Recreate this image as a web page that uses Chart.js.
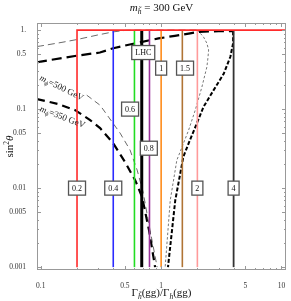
<!DOCTYPE html>
<html>
<head>
<meta charset="utf-8">
<script src="https://cdn.jsdelivr.net/npm/chart.js@4"></script>
<style>
html, body { margin: 0; padding: 0; background: #fff; }
</style>
</head>
<body>
<canvas id="myChart" width="291" height="301"></canvas>
<script>
// axis ranges (log)
const xMin = 0.093, xMax = 10.9;
const yMin = 0.00092, yMax = 1.23;

// tick labels
const xTickValues = [0.1, 0.5, 1, 5, 10];
const xTickLabels = ['0.1', '0.5', '1', '5', '10'];
const yTickValues = [1, 0.5, 0.1, 0.05, 0.01, 0.005, 0.001];
const yTickLabels = ['1.', '0.5', '0.1', '0.05', '0.01', '0.005', '0.001'];

// vertical lines of constant ratio
const ratioValues = [0.2, 0.4, 0.6, 0.69, 0.8, 1, 1.5, 2, 4];
const ratioNames = ['0.2', '0.4', '0.6', 'LHC', '0.8', '1', '1.5', '2', '4'];
const ratioColors = ['#ff2b2b', '#2b2bff', '#22dd22', '#000000', '#993399', '#ff8c1a', '#b07434', '#ff9a9a', '#333333'];
const ratioWidths = [1.6, 1.6, 1.6, 3, 1.6, 1.6, 1.6, 1.6, 1.8];
// box label anchors (data coords)
const boxX = [0.2, 0.4, 0.552, 0.71, 0.79, 1, 1.58, 2, 4];
const boxY = [0.01, 0.01, 0.1, 0.52, 0.032, 0.33, 0.33, 0.01, 0.01];

// m_phi = 500 GeV (thin) curves
const upper500X = [0.093, 0.1, 0.15, 0.2, 0.3, 0.4, 0.5, 0.6, 1.0, 2.0];
const upper500Y = [0.62, 0.63, 0.70, 0.76, 0.87, 0.95, 0.99, 1.0, 1.0, 1.0];
const right500X = [2.0, 2.25, 2.40, 2.48, 2.45, 2.40, 2.18, 1.92, 1.69, 1.49, 1.35, 1.19, 1.08];
const right500Y = [1.0, 0.82, 0.68, 0.56, 0.45, 0.343, 0.19, 0.097, 0.054, 0.033, 0.0226, 0.0070, 0.001];
const lower500X = [0.241, 0.311, 0.456, 0.552, 0.632, 0.708, 0.81, 0.927];
const lower500Y = [0.150, 0.112, 0.0497, 0.0303, 0.0169, 0.0089, 0.0029, 0.001];

// m_phi = 350 GeV (thick) curves
const upper350X = [0.093, 0.1, 0.2, 0.31, 0.4, 0.6, 0.95, 1.3, 1.74, 2.05, 3.0, 3.96];
const upper350Y = [0.39, 0.40, 0.475, 0.52, 0.59, 0.677, 0.785, 0.847, 0.91, 0.95, 0.97, 0.97];
const right350X = [3.96, 3.96, 3.76, 3.31, 2.73, 2.25, 1.98, 1.74, 1.53, 1.31, 1.14];
const right350Y = [0.97, 0.68, 0.46, 0.28, 0.174, 0.107, 0.066, 0.041, 0.025, 0.0070, 0.001];
const lower350X = [0.093, 0.139, 0.193, 0.257, 0.311, 0.399, 0.502, 0.608, 0.695, 0.794, 0.891];
const lower350Y = [0.134, 0.116, 0.097, 0.0726, 0.0575, 0.0371, 0.0213, 0.0126, 0.0077, 0.0029, 0.001];

const serif = "'Liberation Serif', 'DejaVu Serif', serif";

function toPoints(xs, ys) {
    return xs.map((v, i) => ({x: v, y: ys[i]}));
}

let datasets = [];

// red line also runs along the top
ratioValues.forEach((v, i) => {
    let pts = [{x: v, y: yTickValues[6]}, {x: v, y: 1}];
    if (i == 0) pts.push({x: xMax, y: 1});
    datasets.push({
        data: pts,
        borderColor: ratioColors[i],
        borderWidth: ratioWidths[i],
        pointRadius: 0,
        showLine: true,
        tension: 0
    });
});

function curve(xs, ys, color, width, dash) {
    return {
        data: toPoints(xs, ys),
        borderColor: color,
        borderWidth: width,
        borderDash: dash,
        pointRadius: 0,
        showLine: true,
        tension: 0
    };
}

datasets.push(curve(upper500X, upper500Y, '#444', 0.8, [7, 4]));
datasets.push(curve(right500X, right500Y, '#777', 1, [2.5, 2]));
datasets.push(curve(lower500X, lower500Y, '#444', 0.8, [6, 4]));
datasets.push(curve(upper350X, upper350Y, '#000', 2.2, [10, 5]));
datasets.push(curve(right350X, right350Y, '#000', 2, [4, 2]));
datasets.push(curve(lower350X, lower350Y, '#000', 2.2, [8, 5]));

// minor tick positions
function logTicks(lo, hi) {
    let t = [];
    for (let d = lo; d <= hi; d++) {
        for (let k = 1; k < 10; k++) t.push(k * Math.pow(10, d));
    }
    return t;
}
const xMinor = logTicks(-2, 1).filter(v => v >= xMin && v <= xMax);
const yMinor = logTicks(-4, 0).filter(v => v >= yMin && v <= yMax);

// draw text made of pieces (sub/superscripts)
function richText(ctx, parts, x, y, align) {
    let w = 0;
    parts.forEach(p => { ctx.font = p.f; p.w = ctx.measureText(p.t).width; w += p.w; });
    let cx = align == 'center' ? x - w / 2 : x;
    ctx.textBaseline = 'alphabetic';
    ctx.textAlign = 'left';
    parts.forEach(p => {
        ctx.font = p.f;
        ctx.fillText(p.t, cx, y + (p.dy || 0));
        cx += p.w;
    });
}

const decor = {
    id: 'decor',
    afterDatasetsDraw(chart) {
        const {ctx, chartArea: a, scales: {x, y}} = chart;
        ctx.save();
        // frame
        ctx.strokeStyle = '#999';
        ctx.lineWidth = 1;
        ctx.strokeRect(a.left + 0.5, a.top + 0.5, a.right - a.left - 1, a.bottom - a.top - 1);
        // inner ticks on all four sides
        ctx.beginPath();
        xMinor.forEach(v => {
            let px = Math.round(x.getPixelForValue(v)) + 0.5;
            let len = xTickValues.includes(v) ? 4 : 2;
            ctx.moveTo(px, a.bottom); ctx.lineTo(px, a.bottom - len);
            ctx.moveTo(px, a.top); ctx.lineTo(px, a.top + len);
        });
        yMinor.forEach(v => {
            let py = Math.round(y.getPixelForValue(v)) + 0.5;
            let len = yTickValues.some(t => Math.abs(t - v) < v * 1e-6) ? 4 : 2;
            ctx.moveTo(a.left, py); ctx.lineTo(a.left + len, py);
            ctx.moveTo(a.right, py); ctx.lineTo(a.right - len, py);
        });
        ctx.stroke();

        // boxed labels on the lines
        ctx.font = '8px ' + serif;
        ctx.textAlign = 'center';
        ctx.textBaseline = 'middle';
        ratioNames.forEach((name, i) => {
            let px = x.getPixelForValue(boxX[i]);
            let py = y.getPixelForValue(boxY[i]);
            let w = ctx.measureText(name).width + 7;
            let h = 14;
            ctx.fillStyle = '#fff';
            ctx.fillRect(px - w / 2, py - h / 2, w, h);
            ctx.strokeStyle = '#555';
            ctx.lineWidth = 1.3;
            ctx.strokeRect(px - w / 2, py - h / 2, w, h);
            ctx.fillStyle = '#111';
            ctx.fillText(name, px, py + 0.5);
        });

        // curve labels
        const massLabels = [
            {m: '500', x: 0.099, y: 0.254, rot: 26},
            {m: '350', x: 0.099, y: 0.103, rot: 21}
        ];
        ctx.fillStyle = '#222';
        massLabels.forEach(l => {
            ctx.save();
            ctx.translate(x.getPixelForValue(l.x), y.getPixelForValue(l.y));
            ctx.rotate(l.rot * Math.PI / 180);
            richText(ctx, [
                {t: 'm', f: 'italic 9px ' + serif},
                {t: '\u03d5', f: 'italic 6.5px ' + serif, dy: 2},
                {t: '=' + l.m + ' GeV', f: '9px ' + serif}
            ], 0, 3, 'left');
            ctx.restore();
        });
        ctx.restore();
    },
    afterDraw(chart) {
        const {ctx, chartArea: a} = chart;
        const mid = (a.left + a.right) / 2;
        ctx.save();
        ctx.fillStyle = '#111';
        // title
        richText(ctx, [
            {t: 'm', f: 'italic 11px ' + serif},
            {t: 'h\u0303', f: 'italic 7.5px ' + serif, dy: 2.5},
            {t: ' = 300 GeV', f: '11px ' + serif}
        ], mid, 11, 'center');
        // x title
        richText(ctx, [
            {t: '\u0393', f: '11px ' + serif},
            {t: 'h\u0303', f: 'italic 7.5px ' + serif, dy: 2.5},
            {t: '(gg)/\u0393', f: '11px ' + serif},
            {t: 'h', f: 'italic 7.5px ' + serif, dy: 2.5},
            {t: '(gg)', f: '11px ' + serif}
        ], mid, 296, 'center');
        // y title
        ctx.translate(13, (a.top + a.bottom) / 2);
        ctx.rotate(-Math.PI / 2);
        richText(ctx, [
            {t: 'sin', f: '11px ' + serif},
            {t: '2', f: '7.5px ' + serif, dy: -4},
            {t: '\u03b8', f: 'italic 11px ' + serif}
        ], 0, 0, 'center');
        ctx.restore();
    }
};

const myChart = document.getElementById('myChart');

let chart = new Chart(myChart, {
    type: 'scatter',
    data: {datasets: datasets},
    options: {
        responsive: false,
        animation: false,
        devicePixelRatio: 1,
        layout: {padding: {top: 23, right: 5, left: 0, bottom: 0}},
        plugins: {legend: {display: false}, tooltip: {enabled: false}},
        scales: {
            x: {
                type: 'logarithmic',
                min: xMin,
                max: xMax,
                grid: {display: false},
                border: {display: false},
                afterBuildTicks: s => { s.ticks = xTickValues.map(v => ({value: v})); },
                afterFit: s => { s.height = 31; },
                ticks: {
                    autoSkip: false,
                    maxRotation: 0,
                    padding: 4,
                    color: '#333',
                    font: {family: serif, size: 7.5},
                    callback: (v) => xTickLabels[xTickValues.indexOf(v)]
                }
            },
            y: {
                type: 'logarithmic',
                min: yMin,
                max: yMax,
                grid: {display: false},
                border: {display: false},
                afterBuildTicks: s => { s.ticks = yTickValues.map(v => ({value: v})); },
                afterFit: s => { s.width = 37; },
                ticks: {
                    autoSkip: false,
                    padding: 3,
                    color: '#333',
                    font: {family: serif, size: 7.5},
                    callback: (v) => yTickLabels[yTickValues.indexOf(v)]
                }
            }
        }
    },
    plugins: [decor]
});
</script>
</body>
</html>
